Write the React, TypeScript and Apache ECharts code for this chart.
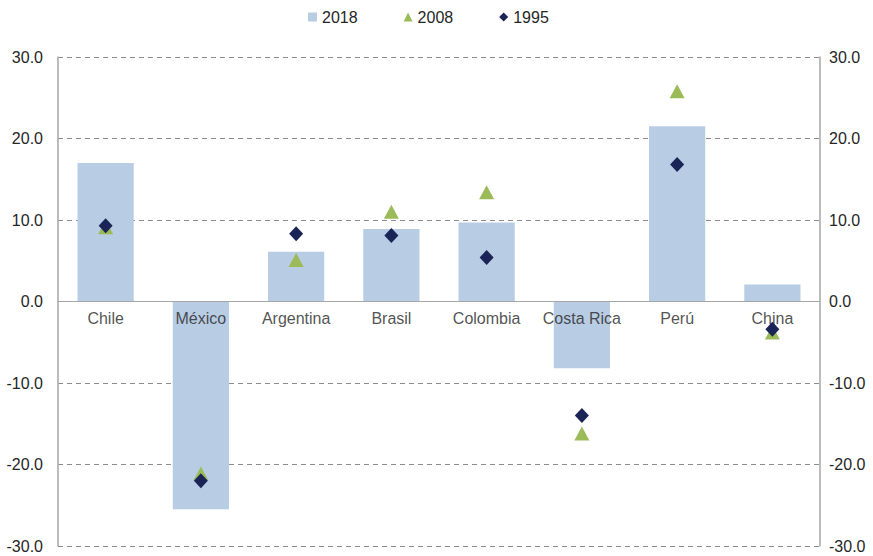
import React, { useEffect, useRef } from "react";
import * as echarts from "echarts";

const categories = ["Chile", "México", "Argentina", "Brasil", "Colombia", "Costa Rica", "Perú", "China"];
const values2018 = [17.0, -25.5, 6.1, 8.9, 9.7, -8.2, 21.5, 2.1];
const values2008 = [9.1, -21.1, 5.1, 11.0, 13.4, -16.2, 25.8, -3.8];
const values1995 = [9.3, -22.0, 8.3, 8.1, 5.4, -14.0, 16.8, -3.4];

const FONT = "'Liberation Sans', Arial, Helvetica, sans-serif";
const FS = 16;
const TXT = "#262626";

export default function App() {
  const ref = useRef<HTMLDivElement>(null);
  useEffect(() => {
    if (!ref.current) return;
    const chart = echarts.init(ref.current, undefined, { renderer: "svg" });
    const yAxisCommon = {
      type: "value",
      min: -30,
      max: 30,
      interval: 10,
      axisLine: { show: true, lineStyle: { color: "#a6a6a6", width: 1.5 } },
      axisTick: { show: false },
      axisLabel: {
        color: TXT,
        fontSize: FS,
        fontFamily: FONT,
        formatter: (v: number) => v.toFixed(1),
      },
    };
    chart.setOption({
      animation: false,
      textStyle: { fontFamily: FONT },
      legend: {
        top: 4,
        left: 303,
        itemGap: 46,
        itemWidth: 9,
        itemHeight: 9,
        textStyle: { fontSize: FS, color: TXT, fontFamily: FONT },
        data: [
          { name: "2018", icon: "rect", itemStyle: { color: "#b8cce4" } },
          { name: "2008", icon: "triangle", itemStyle: { color: "#9bbb59" } },
          { name: "1995", icon: "diamond", itemStyle: { color: "#1a2456" } },
        ],
      },
      grid: { left: 58, right: 53, top: 57, bottom: 10, containLabel: false, outerBoundsMode: "none" },
      xAxis: {
        type: "category",
        data: categories,
        axisLine: { show: true, onZero: true, lineStyle: { color: "#a6a6a6", width: 1 } },
        axisTick: { show: false },
        axisLabel: { show: false },
        z: 5,
      },
      yAxis: [
        {
          ...yAxisCommon,
          position: "left",
          axisLabel: { ...yAxisCommon.axisLabel, margin: 15 },
          splitLine: { show: true, lineStyle: { color: "#8c8c8c", type: [5, 4], width: 1 } },
        },
        {
          ...yAxisCommon,
          position: "right",
          axisLabel: { ...yAxisCommon.axisLabel, margin: 9 },
          splitLine: { show: false },
        },
      ],
      series: [
        {
          name: "2018",
          type: "bar",
          data: values2018,
          barWidth: "59%",
          itemStyle: { color: "#b8cce4" },
          z: 1,
        },
        {
          name: "labels",
          type: "scatter",
          data: categories.map((c) => [c, 0]),
          symbolSize: 0,
          silent: true,
          label: {
            show: true,
            position: "bottom",
            distance: 9,
            formatter: (p: any) => p.value[0],
            color: TXT,
            fontSize: FS,
            fontFamily: FONT,
          },
          z: 2,
        },
        {
          name: "2008",
          type: "scatter",
          data: values2008,
          symbol: "triangle",
          symbolSize: [15, 14],
          itemStyle: { color: "#9bbb59", opacity: 1 },
          z: 3,
        },
        {
          name: "1995",
          type: "scatter",
          data: values1995,
          symbol: "diamond",
          symbolSize: [14, 15],
          itemStyle: { color: "#1a2456", opacity: 1 },
          z: 4,
        },
      ],
    });
    return () => chart.dispose();
  }, []);
  return <div ref={ref} style={{ width: 873, height: 556, position: "absolute", left: 0, top: 0 }} />;
}
